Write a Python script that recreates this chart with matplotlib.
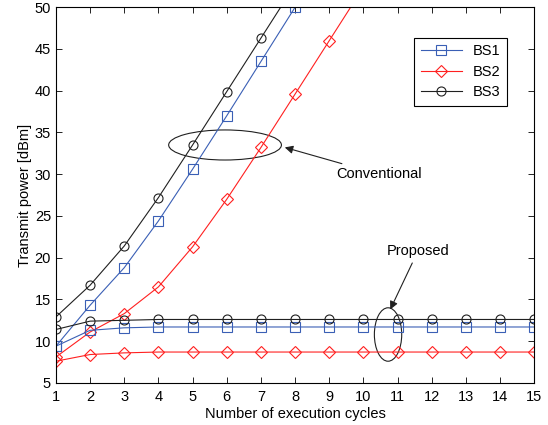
import numpy as np
import matplotlib
matplotlib.use("Agg")
import matplotlib.pyplot as plt
from matplotlib.patches import Ellipse

plt.rcParams['font.family'] = ['Liberation Sans', 'DejaVu Sans']

cycles = np.arange(1, 16)

# conventional scheme (values above 50 dBm fall off the plot)
conv_bs1 = [9.4, 14.3, 18.8, 24.4, 30.6, 37.0, 43.5, 50.0, 56.5]
conv_bs2 = [8.1, 11.1, 13.3, 16.5, 21.3, 27.0, 33.2, 39.6, 46.0, 52.4]
conv_bs3 = [12.9, 16.7, 21.4, 27.2, 33.5, 39.9, 46.3, 52.7]

# proposed scheme
prop_bs1 = [9.4, 11.3, 11.6, 11.7] + [11.7] * 11
prop_bs2 = [7.6, 8.4, 8.6, 8.7] + [8.7] * 11
prop_bs3 = [11.4, 12.4, 12.5, 12.6] + [12.6] * 11

blue = '#3a5fb5'
red = '#ff2020'
black = '#202020'
fs = 10.5

fig = plt.figure(figsize=(5.48, 4.25), dpi=100)
ax = fig.add_axes([0.102, 0.099, 0.873, 0.884])

mk = dict(markerfacecolor='none', markersize=6.5, markeredgewidth=0.8, linewidth=0.8)

ax.plot(cycles[:len(conv_bs1)], conv_bs1, color=blue, marker='s', label='BS1', **mk)
ax.plot(cycles[:len(conv_bs2)], conv_bs2, color=red, marker='D', label='BS2', **{**mk, 'markersize': 6})
ax.plot(cycles[:len(conv_bs3)], conv_bs3, color=black, marker='o', label='BS3', **mk)

ax.plot(cycles, prop_bs1, color=blue, marker='s', **mk)
ax.plot(cycles, prop_bs2, color=red, marker='D', **{**mk, 'markersize': 6})
ax.plot(cycles, prop_bs3, color=black, marker='o', **mk)

ax.set_xlim(1, 15)
ax.set_ylim(5, 50)
ax.set_xticks(range(1, 16))
ax.set_yticks(range(5, 51, 5))
ax.tick_params(direction='in', top=True, right=True, labelsize=fs, length=4, width=0.6)
ax.tick_params(axis='x', pad=5)
for s in ax.spines.values():
    s.set_linewidth(0.8)

ax.set_xlabel('Number of execution cycles', fontsize=fs, labelpad=2)
ax.set_ylabel('Transmit power [dBm]', fontsize=fs, labelpad=2)

# annotations
ax.add_patch(Ellipse((5.95, 33.5), 3.3, 3.6, fill=False, color=black, linewidth=0.8))
ax.annotate('Conventional', xy=(7.62, 33.3), xytext=(9.2, 30.0),
            fontsize=fs, va='center', ha='left',
            arrowprops=dict(arrowstyle='-|>', color=black, linewidth=0.8, mutation_scale=12))

ax.add_patch(Ellipse((10.72, 10.8), 0.8, 6.4, fill=False, color=black, linewidth=0.8))
ax.annotate('Proposed', xy=(10.75, 13.5), xytext=(11.6, 20.0),
            fontsize=fs, va='bottom', ha='center',
            arrowprops=dict(arrowstyle='-|>', color=black, linewidth=0.8, mutation_scale=12))

leg = ax.legend(loc='upper right', bbox_to_anchor=(0.959, 0.938), fontsize=fs,
                fancybox=False, edgecolor='black', framealpha=1,
                handlelength=2.8, borderpad=0.45, labelspacing=0.45)
leg.get_frame().set_linewidth(0.8)

fig.savefig('out.png', dpi=100)
